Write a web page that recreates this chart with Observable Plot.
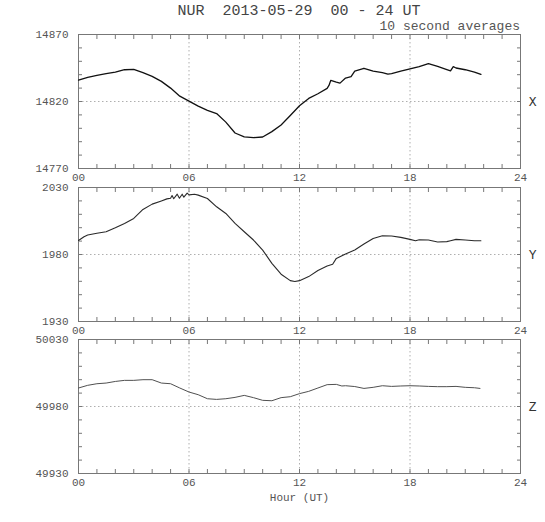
<!DOCTYPE html>
<html>
<head>
<meta charset="utf-8">
<script src="https://cdn.jsdelivr.net/npm/d3@7"></script>
<script src="https://cdn.jsdelivr.net/npm/@observablehq/plot@0.6"></script>
<style>
  html, body { margin: 0; padding: 0; background: #fff; }
  #wrap { position: relative; width: 545px; height: 522px; font-family: "Liberation Mono", "DejaVu Sans Mono", monospace; color: #555; }
  .abs { position: absolute; left: 0; }
  #title { position: absolute; top: 3px; left: 78px; width: 442px; text-align: center; font-size: 15px; white-space: pre; color: #444; line-height: 18px; }
  #sub { position: absolute; top: 19px; left: 78px; width: 442px; text-align: right; font-size: 13px; white-space: pre; color: #555; line-height: 15px; }
</style>
</head>
<body>
<div id="wrap">
  <div id="title"></div>
  <div id="sub"></div>
</div>
<script>
// ---- data ----
const title = "NUR  2013-05-29  00 - 24 UT";
const subtitle = "10 second averages";
const xAxisLabel = "Hour (UT)";
const hourLabels = [0, 6, 12, 18, 24];
const hourTicks = d3.range(0, 25, 1);
const gridHours = [6, 12, 18];

const compNames = ["X", "Y", "Z"];
const compRanges = [[14770, 14870], [1930, 2030], [49930, 50030]];

const xHours = [0, 0.5, 1, 1.5, 2, 2.5, 3, 3.5, 4, 4.5, 5, 5.5, 6, 6.5, 7, 7.5, 8, 8.5, 9, 9.5, 10, 10.5, 11, 11.5, 12, 12.5, 13, 13.5, 13.6, 13.7, 14, 14.2, 14.5, 14.8, 15, 15.5, 16, 16.5, 16.8, 17, 17.5, 18, 18.5, 19, 19.5, 20, 20.2, 20.35, 20.5, 21, 21.5, 21.85];
const xValues = [14836, 14838, 14839.5, 14840.8, 14842, 14843.7, 14844, 14841.5, 14838.8, 14835, 14830, 14824, 14820.3, 14816.5, 14813.4, 14811, 14804.6, 14796.5, 14793.6, 14793, 14793.5, 14797.5, 14802.5, 14809.5, 14816.8, 14822.3, 14825.8, 14829.8, 14832, 14835.8, 14834.5, 14833.7, 14837.5, 14838.5, 14842.7, 14844.8, 14842.7, 14841.5, 14840.4, 14840.8, 14842.6, 14844.4, 14846, 14848.3, 14846.2, 14843.8, 14842.8, 14846, 14845, 14843.7, 14842, 14840.2];

const yHours = [0, 0.3, 0.5, 1, 1.5, 2, 2.5, 3, 3.5, 4, 4.5, 4.8, 5, 5.08, 5.17, 5.36, 5.48, 5.63, 5.72, 5.9, 6, 6.3, 6.5, 7, 7.5, 8, 8.5, 9, 9.5, 10, 10.5, 11, 11.5, 11.75, 12, 12.5, 13, 13.5, 13.8, 14, 14.5, 15, 15.5, 16, 16.5, 17, 17.5, 18, 18.3, 18.5, 19, 19.5, 20, 20.2, 20.5, 21, 21.5, 21.85];
const yValues = [1990.5, 1993.3, 1994.5, 1995.8, 1997, 2000, 2003.2, 2006.9, 2013.6, 2017.6, 2020, 2021.5, 2022, 2024, 2021.6, 2025, 2022, 2025, 2022.8, 2025.8, 2024.5, 2025, 2024.3, 2021.8, 2015.6, 2010.6, 2003.2, 1997, 1990.8, 1983.3, 1973.4, 1965.3, 1960.5, 1959.8, 1960.5, 1963.5, 1968, 1971.4, 1972.7, 1977.1, 1980.4, 1983.3, 1987.8, 1992, 1994, 1993.8, 1992.8, 1991.3, 1990.3, 1991, 1990.8, 1989.3, 1989.6, 1990.3, 1991.3, 1990.8, 1990.3, 1990.3];

const zHours = [0, 0.5, 1, 1.5, 2, 2.5, 3, 3.5, 4, 4.5, 5, 5.5, 6, 6.5, 7, 7.5, 8, 8.5, 9, 9.5, 10, 10.5, 11, 11.5, 12, 12.5, 13, 13.5, 14, 14.3, 14.5, 15, 15.5, 16, 16.5, 17, 17.5, 18, 18.5, 19, 19.5, 20, 20.5, 21, 21.5, 21.8];
const zValues = [49993.8, 49995.8, 49997, 49997.5, 49998.7, 49999.5, 49999.5, 50000, 50000, 49997.5, 49997, 49993.8, 49990.8, 49988.8, 49985.8, 49985.3, 49985.8, 49986.8, 49988.3, 49986.6, 49984.6, 49984.3, 49986.6, 49987.3, 49989.6, 49991.3, 49993.8, 49996.3, 49996.5, 49995.3, 49995.5, 49994.9, 49993.5, 49994.3, 49995.5, 49995, 49995.3, 49995.5, 49995.3, 49995, 49994.8, 49994.8, 49995, 49994.3, 49994, 49993.5];

const series = [
  {hours: xHours, values: xValues, stroke: "#111", width: 1.3},
  {hours: yHours, values: yValues, stroke: "#2a2a2a", width: 1.1},
  {hours: zHours, values: zValues, stroke: "#505050", width: 1}
];

document.getElementById("title").textContent = title;
document.getElementById("sub").textContent = subtitle;

// ---- layout ----
const frameTops = [34, 187, 339];
const frameH = 134;
const marginTop = 10;
const wrap = document.getElementById("wrap");
const pad2 = d => String(d).padStart(2, "0");
const tickStroke = "#777";

series.forEach((s, i) => {
  const [lo, hi] = compRanges[i];
  const mid = (lo + hi) / 2;
  const yTicks = d3.range(lo, hi + 1, 10);
  const data = s.hours.map((h, j) => ({h, v: s.values[j]}));
  const last = i === 2;
  const marginBottom = last ? 40 : 18;
  const marks = [
    Plot.ruleX(gridHours, {stroke: "#9a9a9a", strokeDasharray: "1.5,2.5", strokeWidth: 0.8}),
    Plot.ruleY([mid], {stroke: "#9a9a9a", strokeDasharray: "1.5,2.5", strokeWidth: 0.8}),
    Plot.axisX(hourTicks, {anchor: "bottom", tickSize: 4, dy: -4, text: null, label: null, stroke: tickStroke}),
    Plot.axisX(hourTicks, {anchor: "top", tickSize: 4, dy: 4, text: null, label: null, stroke: tickStroke}),
    Plot.axisY(yTicks, {anchor: "left", tickSize: 4, dx: 4, text: null, label: null, stroke: tickStroke}),
    Plot.axisY(yTicks, {anchor: "right", tickSize: 4, dx: -4, text: null, label: null, stroke: tickStroke}),
    Plot.axisX(hourLabels, {anchor: "bottom", tickSize: 0, tickPadding: 5, tickFormat: pad2, label: null, fill: "#555"}),
    Plot.axisY([lo, mid, hi], {anchor: "left", tickSize: 0, tickPadding: 10, tickFormat: d => String(d), label: null, fill: "#555"}),
    Plot.frame({stroke: "#777"}),
    Plot.line(data, {x: "h", y: "v", stroke: s.stroke, strokeWidth: s.width}),
    Plot.text([compNames[i]], {frameAnchor: "right", dx: 16, fontSize: 13, fill: "#333"})
  ];
  if (last) marks.push(Plot.text([xAxisLabel], {frameAnchor: "bottom", dy: 27, fontSize: 11, fill: "#555"}));
  const svg = Plot.plot({
    width: 545,
    height: marginTop + frameH + marginBottom,
    marginLeft: 78, marginRight: 25, marginTop, marginBottom,
    x: {domain: [0, 24], axis: null},
    y: {domain: [lo, hi], axis: null},
    style: {fontFamily: "'Liberation Mono', 'DejaVu Sans Mono', monospace", fontSize: "11px", color: "#555", background: "none", overflow: "visible"},
    marks
  });
  svg.classList.add("abs");
  svg.style.top = (frameTops[i] - marginTop) + "px";
  wrap.appendChild(svg);
});
</script>
</body>
</html>
